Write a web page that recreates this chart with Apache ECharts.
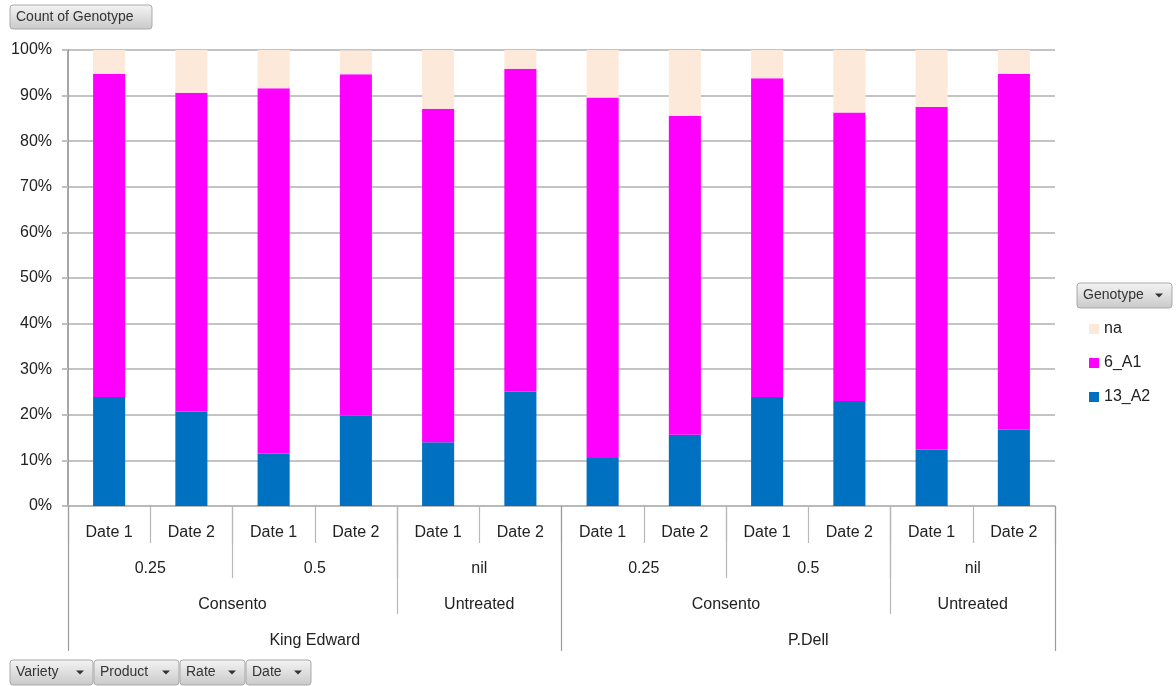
<!DOCTYPE html>
<html>
<head>
<meta charset="utf-8">
<script src="https://cdn.jsdelivr.net/npm/echarts@6/dist/echarts.min.js"></script>
<style>
html,body{margin:0;padding:0;background:#fff;}
#c{width:1176px;height:686px;}
</style>
</head>
<body>
<div id="c"></div>
<script>
// Category labels (innermost level first)
const dateLabels = ['Date 1','Date 2','Date 1','Date 2','Date 1','Date 2','Date 1','Date 2','Date 1','Date 2','Date 1','Date 2'];
const rateLabels = ['0.25','0.5','nil','0.25','0.5','nil'];
const productLabels = ['Consento','Untreated','Consento','Untreated'];
const varietyLabels = ['King Edward','P.Dell'];

// Series values (% of count)
const s13_A2 = [23.9, 20.7, 11.5, 19.8, 14.0, 25.1, 10.5, 15.6, 23.9, 23.0, 12.4, 16.7];
const s6_A1  = [70.9, 69.9, 80.1, 74.9, 73.1, 70.8, 79.1, 69.9, 69.9, 63.3, 75.1, 78.1];
const sNa    = [5.2, 9.4, 8.4, 5.2, 12.9, 4.1, 10.4, 14.5, 6.2, 13.7, 12.5, 5.2];

const yTicks = [0,10,20,30,40,50,60,70,80,90,100];

// group boundaries / centres in units of categories (0..12)
const rateBounds = [2,4,8,10];
const rateCenters = [1,3,5,7,9,11];
const productBounds = [4,10];
const productCenters = [2,5,8,11];
const varietyBounds = [0,6,12];
const varietyCenters = [3,9];

const FONT = '"Liberation Sans", Arial, sans-serif';
const sepColor = '#b8b8b8';

function levelAxis(bounds, centers, labels, tickLen, margin, color){
  return {
    type:'value', min:0, max:12, position:'bottom', offset:0,
    axisLine:{show:false},
    splitLine:{show:false},
    axisTick:{show:true, length:tickLen, customValues:bounds, lineStyle:{color:color||sepColor, width:1.2}},
    axisLabel:{show:true, customValues:centers, margin:margin, fontFamily:FONT, fontSize:16, color:'#222',
      formatter:function(v){ const i = centers.indexOf(v); return i>=0 ? labels[i] : ''; }}
  };
}

function button(x,y,w,h,label,arrow){
  const children = [
    {type:'rect', shape:{x:0,y:0,width:w,height:h,r:3},
     style:{fill:new echarts.graphic.LinearGradient(0,0,0,1,[{offset:0,color:'#f4f4f4'},{offset:1,color:'#c9c9c9'}]), stroke:'#a9a9a9', lineWidth:1}},
    {type:'text', x:6, y:h/2, style:{text:label, font:'14px '+FONT, fill:'#333', verticalAlign:'middle'}}
  ];
  if(arrow){
    children.push({type:'polygon', shape:{points:[[w-17,h/2-2],[w-9,h/2-2],[w-13,h/2+2]]}, style:{fill:'#333'}});
  }
  return {type:'group', x:x, y:y, children:children};
}

const chart = echarts.init(document.getElementById('c'), null, {renderer:'canvas'});
chart.setOption({
  animation:false,
  backgroundColor:'#fff',
  grid:{left:68, right:121, top:50, bottom:180},
  legend:{
    orient:'vertical', left:1084, top:316,
    data:['na','6_A1','13_A2'],
    icon:'rect', itemWidth:10, itemHeight:10, itemGap:18,
    textStyle:{fontFamily:FONT, fontSize:16, color:'#222'}
  },
  xAxis:[
    {
      type:'category', data:dateLabels, position:'bottom',
      axisLine:{show:true, lineStyle:{color:'#b5b5b5', width:1.5}},
      axisTick:{show:true, length:37, interval:0, lineStyle:{color:sepColor, width:1.2}},
      axisLabel:{interval:0, margin:19, fontFamily:FONT, fontSize:16, color:'#222'},
      splitLine:{show:false}
    },
    levelAxis(rateBounds, rateCenters, rateLabels, 72, 55),
    levelAxis(productBounds, productCenters, productLabels, 108, 91),
    levelAxis(varietyBounds, varietyCenters, varietyLabels, 145, 127, '#9c9c9c')
  ],
  yAxis:{
    type:'value', min:0, max:100, interval:10,
    axisLine:{show:true, lineStyle:{color:'#8a8a8a', width:1.5}},
    axisTick:{show:true, length:6, lineStyle:{color:'#bfbfbf', width:2}},
    axisLabel:{formatter:'{value}%', fontFamily:FONT, fontSize:16, color:'#222', margin:16},
    splitLine:{show:true, lineStyle:{color:'#c4c4c4', width:2}}
  },
  series:[
    {name:'13_A2', type:'bar', stack:'g', data:s13_A2, barWidth:'39%', itemStyle:{color:'#0070C0'}},
    {name:'6_A1', type:'bar', stack:'g', data:s6_A1, barWidth:'39%', itemStyle:{color:'#FF00FF'}},
    {name:'na', type:'bar', stack:'g', data:sNa, barWidth:'39%', itemStyle:{color:'#FDE9D9'}}
  ],
  graphic:[
    button(10,5,142,24,'Count of Genotype',false),
    button(1077,283,95,25,'Genotype',true),
    button(10,660,83,25,'Variety',true),
    button(94,660,85,25,'Product',true),
    button(180,660,65,25,'Rate',true),
    button(246,660,65,25,'Date',true)
  ]
});
</script>
</body>
</html>
